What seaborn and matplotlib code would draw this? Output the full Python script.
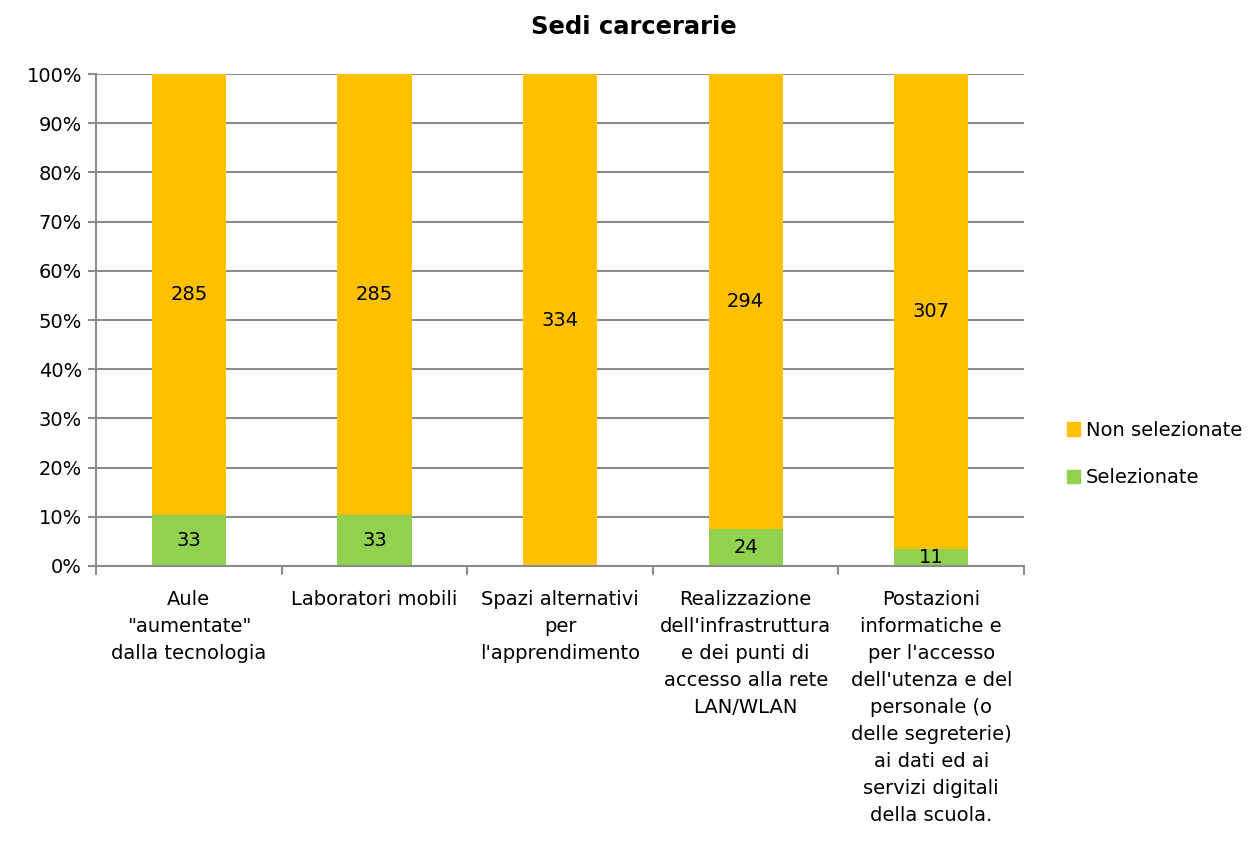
import matplotlib
matplotlib.use("Agg")
import matplotlib.pyplot as plt
import seaborn as sns
import pandas as pd
from matplotlib.patches import Patch

# dati del grafico
categorie = [
    'Aule\n"aumentate"\ndalla tecnologia',
    "Laboratori mobili",
    "Spazi alternativi\nper\nl'apprendimento",
    "Realizzazione\ndell'infrastruttura\ne dei punti di\naccesso alla rete\nLAN/WLAN",
    "Postazioni\ninformatiche e\nper l'accesso\ndell'utenza e del\npersonale (o\ndelle segreterie)\nai dati ed ai\nservizi digitali\ndella scuola.",
]
selezionate = [33, 33, 0, 24, 11]
non_selezionate = [285, 285, 334, 294, 307]
titolo = "Sedi carcerarie"

df = pd.DataFrame({"categoria": categorie,
                   "sel": selezionate,
                   "nonsel": non_selezionate})
df["totale"] = df["sel"] + df["nonsel"]
df["pct_sel"] = df["sel"] / df["totale"] * 100
df["pct_tot"] = 100.0

sns.set_style("white")
plt.rcParams["font.family"] = ["DejaVu Sans"]
plt.rcParams["text.color"] = "black"
plt.rcParams["xtick.color"] = "black"
plt.rcParams["ytick.color"] = "black"

arancio = "#FFC000"
verde = "#92D050"
grigio = "#8c8c8c"

fig = plt.figure(figsize=(12.55, 8.41), dpi=100)
ax = fig.add_axes([0.0765, 0.327, 0.7395, 0.585])

# griglia orizzontale, disegnata prima delle barre
for v in range(10, 101, 10):
    ax.axhline(v, color=grigio, lw=1.5, zorder=0.2)

# barra intera (arancio) e poi la parte selezionata sopra (verde)
sns.barplot(data=df, x="categoria", y="pct_tot", color=arancio, width=0.4,
            saturation=1, ax=ax, zorder=10, edgecolor="none", linewidth=0)
sns.barplot(data=df, x="categoria", y="pct_sel", color=verde, width=0.4,
            saturation=1, ax=ax, zorder=11, edgecolor="none", linewidth=0)
for c in ax.containers:
    for p in c:
        p.set_zorder(10)

# etichette dei valori
for i, r in df.iterrows():
    ps = r["pct_sel"]
    if r["sel"] > 0:
        ax.text(i, ps / 2, f"{r['sel']}", ha="center", va="center",
                fontsize=14, zorder=20)
    ax.text(i, ps + (100 - ps) / 2, f"{r['nonsel']}", ha="center",
            va="center", fontsize=14, zorder=20)

ax.set_ylim(0, 100)
ax.set_xlim(-0.5, len(categorie) - 0.5)
ax.set_yticks(range(0, 101, 10))
ax.set_yticklabels([f"{v}%" for v in range(0, 101, 10)], fontsize=14)
ax.set_xticks(range(len(categorie)))
ax.set_xticklabels(categorie, fontsize=14, linespacing=1.54, va="top")
ax.tick_params(axis="x", length=0, pad=17)
ax.tick_params(axis="y", length=6, color=grigio, pad=4, left=True, width=1.5)
ax.set_xlabel("")
ax.set_ylabel("")
ax.grid(False)

# tacche tra le categorie
for b in [x - 0.5 for x in range(len(categorie) + 1)]:
    ax.plot([b, b], [0, -1.6], color=grigio, lw=1.5, clip_on=False, zorder=25)

for lato in ["top", "right"]:
    ax.spines[lato].set_visible(False)
for lato in ["left", "bottom"]:
    ax.spines[lato].set_color(grigio)
    ax.spines[lato].set_linewidth(1.5)
    ax.spines[lato].set_zorder(25)

fig.text(0.505, 0.968, titolo, ha="center", va="center",
         fontsize=17.5, fontweight="bold")

maniglie = [Patch(color=arancio, label="Non selezionate"),
            Patch(color=verde, label="Selezionate")]
fig.legend(handles=maniglie, loc="center left", bbox_to_anchor=(0.836, 0.46),
           frameon=False, fontsize=14, handlelength=0.7, handleheight=0.7,
           handletextpad=0.3, labelspacing=1.45)

fig.savefig("out.png", dpi=100)
